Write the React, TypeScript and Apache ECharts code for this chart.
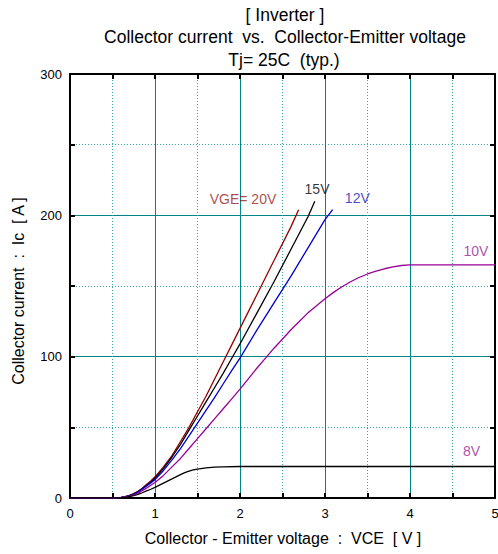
import React, { useEffect, useRef } from 'react';
import * as echarts from 'echarts';

const FONT = '"Liberation Sans", Arial, sans-serif';

const titleLines = ['[ Inverter ]', 'Collector current  vs.  Collector-Emitter voltage', 'Tj= 25C  (typ.)'];
const xAxisName = 'Collector - Emitter voltage  :  VCE  [ V ]';
const yAxisName = 'Collector current  :  Ic  [ A ]';

const vge20: number[][] = [[0,0],[0.5,0],[0.55,0.1],[0.6,0.4],[0.65,0.9],[0.7,1.8],[0.75,3.1],[0.8,4.8],[0.85,6.9],[0.9,9.5],[0.95,12.1],[1.0,15],[1.1,22],[1.2,30],[1.3,40],[1.4,50],[1.5,61],[1.6,72],[1.7,84],[1.8,96],[1.9,108],[2.0,120],[2.2,144],[2.4,168],[2.6,192],[2.69,204]];
const vge15: number[][] = [[0,0],[0.5,0],[0.55,0.1],[0.6,0.4],[0.65,0.9],[0.7,1.7],[0.75,2.9],[0.8,4.5],[0.85,6.5],[0.9,9],[0.95,11.4],[1.0,14],[1.1,21],[1.2,29],[1.3,38],[1.4,48],[1.5,58],[1.6,68],[1.7,78],[1.8,88],[1.9,98.5],[2.0,109],[2.2,131],[2.4,153],[2.6,176],[2.8,199],[2.88,210]];
const vge12: number[][] = [[0,0],[0.5,0],[0.55,0.1],[0.6,0.3],[0.65,0.8],[0.7,1.5],[0.75,2.7],[0.8,4.2],[0.85,6.2],[0.9,8.5],[0.95,10.7],[1.0,13],[1.1,19.5],[1.2,27],[1.3,35],[1.4,44],[1.5,53],[1.6,62],[1.7,71],[1.8,80.5],[1.9,90],[2.0,99],[2.2,119],[2.4,138],[2.6,157],[2.8,177],[3.0,197],[3.09,204]];
const vge10: number[][] = [[0,0],[0.5,0],[0.55,0.1],[0.6,0.3],[0.65,0.7],[0.7,1.3],[0.75,2.3],[0.8,3.5],[0.85,5.1],[0.9,7],[0.95,9],[1.0,11],[1.1,16],[1.2,22],[1.3,28],[1.4,35],[1.5,42],[1.6,49],[1.7,56],[1.8,63],[1.9,70],[2.0,77],[2.1,84.5],[2.2,92],[2.3,99],[2.4,106],[2.5,112.5],[2.6,119],[2.7,125],[2.8,131],[2.9,136],[3.0,141],[3.1,145.5],[3.2,149.5],[3.3,153],[3.4,156],[3.5,158.5],[3.6,160.5],[3.7,162.2],[3.8,163.6],[3.9,164.5],[4.0,165],[5.0,165]];
const vge8: number[][] = [[0,0],[0.5,0],[0.55,0.1],[0.6,0.2],[0.65,0.5],[0.7,1],[0.75,1.7],[0.8,2.5],[0.85,3.7],[0.9,5],[0.95,6.2],[1.0,7.5],[1.1,10.5],[1.2,13.5],[1.3,16.5],[1.35,17.9],[1.4,19],[1.45,19.9],[1.5,20.5],[1.6,21.3],[1.7,21.8],[1.8,22],[2.0,22.3],[5.0,22.3]];

const curveLabels = ['VGE= 20V', '15V', '12V', '10V', '8V'];
const labelPositions: number[][] = [[2.035, 211.7], [2.906, 218.3], [3.38, 212.4], [4.776, 174.6], [4.724, 33.1]];
const labelColors = ['#9a1a1a', '#000000', '#1a1ab8', '#992299', '#992299'];

const curves = [
  { name: '20V', data: vge20, color: '#990000' },
  { name: '15V', data: vge15, color: '#000000' },
  { name: '12V', data: vge12, color: '#0000cc' },
  { name: '10V', data: vge10, color: '#990099' },
  { name: '8V', data: vge8, color: '#000000' },
];

const GRID = { left: 70, right: 3, top: 74, bottom: 56 };

function axisCommon(isX: boolean, main: boolean) {
  return {
    type: 'value',
    min: 0,
    max: isX ? 5 : 300,
    interval: isX ? 1 : 100,
    position: isX ? (main ? 'bottom' : 'top') : (main ? 'left' : 'right'),
    axisLine: { show: true, onZero: false, lineStyle: { color: '#000', width: 2 } },
    axisTick: { show: true, inside: true, length: 5, lineStyle: { color: '#000', width: 2 } },
    minorTick: { show: true, splitNumber: 2, length: 5, lineStyle: { color: '#000', width: 2 } },
    splitLine: { show: main, lineStyle: { color: '#008585', width: 1 } },
    minorSplitLine: { show: main, lineStyle: { color: '#3aa5a5', width: 1, type: [1, 2] } },
    axisLabel: { show: main, fontSize: 13, color: '#000', fontFamily: FONT, margin: isX ? 9 : 8 },
  };
}

export default function App() {
  const ref = useRef<HTMLDivElement>(null);
  useEffect(() => {
    if (!ref.current) return;
    const chart = echarts.init(ref.current, undefined, { renderer: 'svg' });
    const textStyle = (text: string, size: number) => ({
      text,
      fontSize: size,
      fontFamily: FONT,
      fill: '#000',
      align: 'center',
      verticalAlign: 'middle',
      textAlign: 'center',
      textVerticalAlign: 'middle',
    });
    const graphic: any[] = [
      { type: 'text', x: 285, y: 15, style: textStyle(titleLines[0], 17.5) },
      { type: 'text', x: 285, y: 37, style: textStyle(titleLines[1], 17.5) },
      { type: 'text', x: 284, y: 60, style: textStyle(titleLines[2], 17.5) },
      { type: 'text', x: 283, y: 538, style: textStyle(xAxisName, 16) },
      { type: 'text', x: 18, y: 291, rotation: Math.PI / 2, style: textStyle(yAxisName, 16) },
    ];
    chart.setOption({
      animation: false,
      backgroundColor: '#fff',
      grid: { ...GRID, containLabel: false, outerBoundsMode: 'none' },
      xAxis: [axisCommon(true, true), axisCommon(true, false)],
      yAxis: [axisCommon(false, true), axisCommon(false, false)],
      graphic,
      series: [
        ...curves.map((c) => ({
          type: 'line',
          name: c.name,
          data: c.data,
          xAxisIndex: 0,
          yAxisIndex: 0,
          showSymbol: false,
          smooth: false,
          lineStyle: { color: c.color, width: 1.3 },
          itemStyle: { color: c.color },
          z: 3,
        })),
        {
          type: 'scatter',
          xAxisIndex: 0,
          yAxisIndex: 0,
          symbolSize: 0,
          z: 4,
          data: curveLabels.map((t, i) => ({
            name: t,
            value: labelPositions[i],
            label: { color: labelColors[i] },
          })),
          label: {
            show: true,
            position: 'inside',
            formatter: '{b}',
            fontSize: 14,
            fontFamily: FONT,
          },
        },
      ],
    });
    return () => chart.dispose();
  }, []);
  return (
    <div
      ref={ref}
      style={{ position: 'absolute', left: 0, top: 0, width: 498, height: 554 }}
    />
  );
}
